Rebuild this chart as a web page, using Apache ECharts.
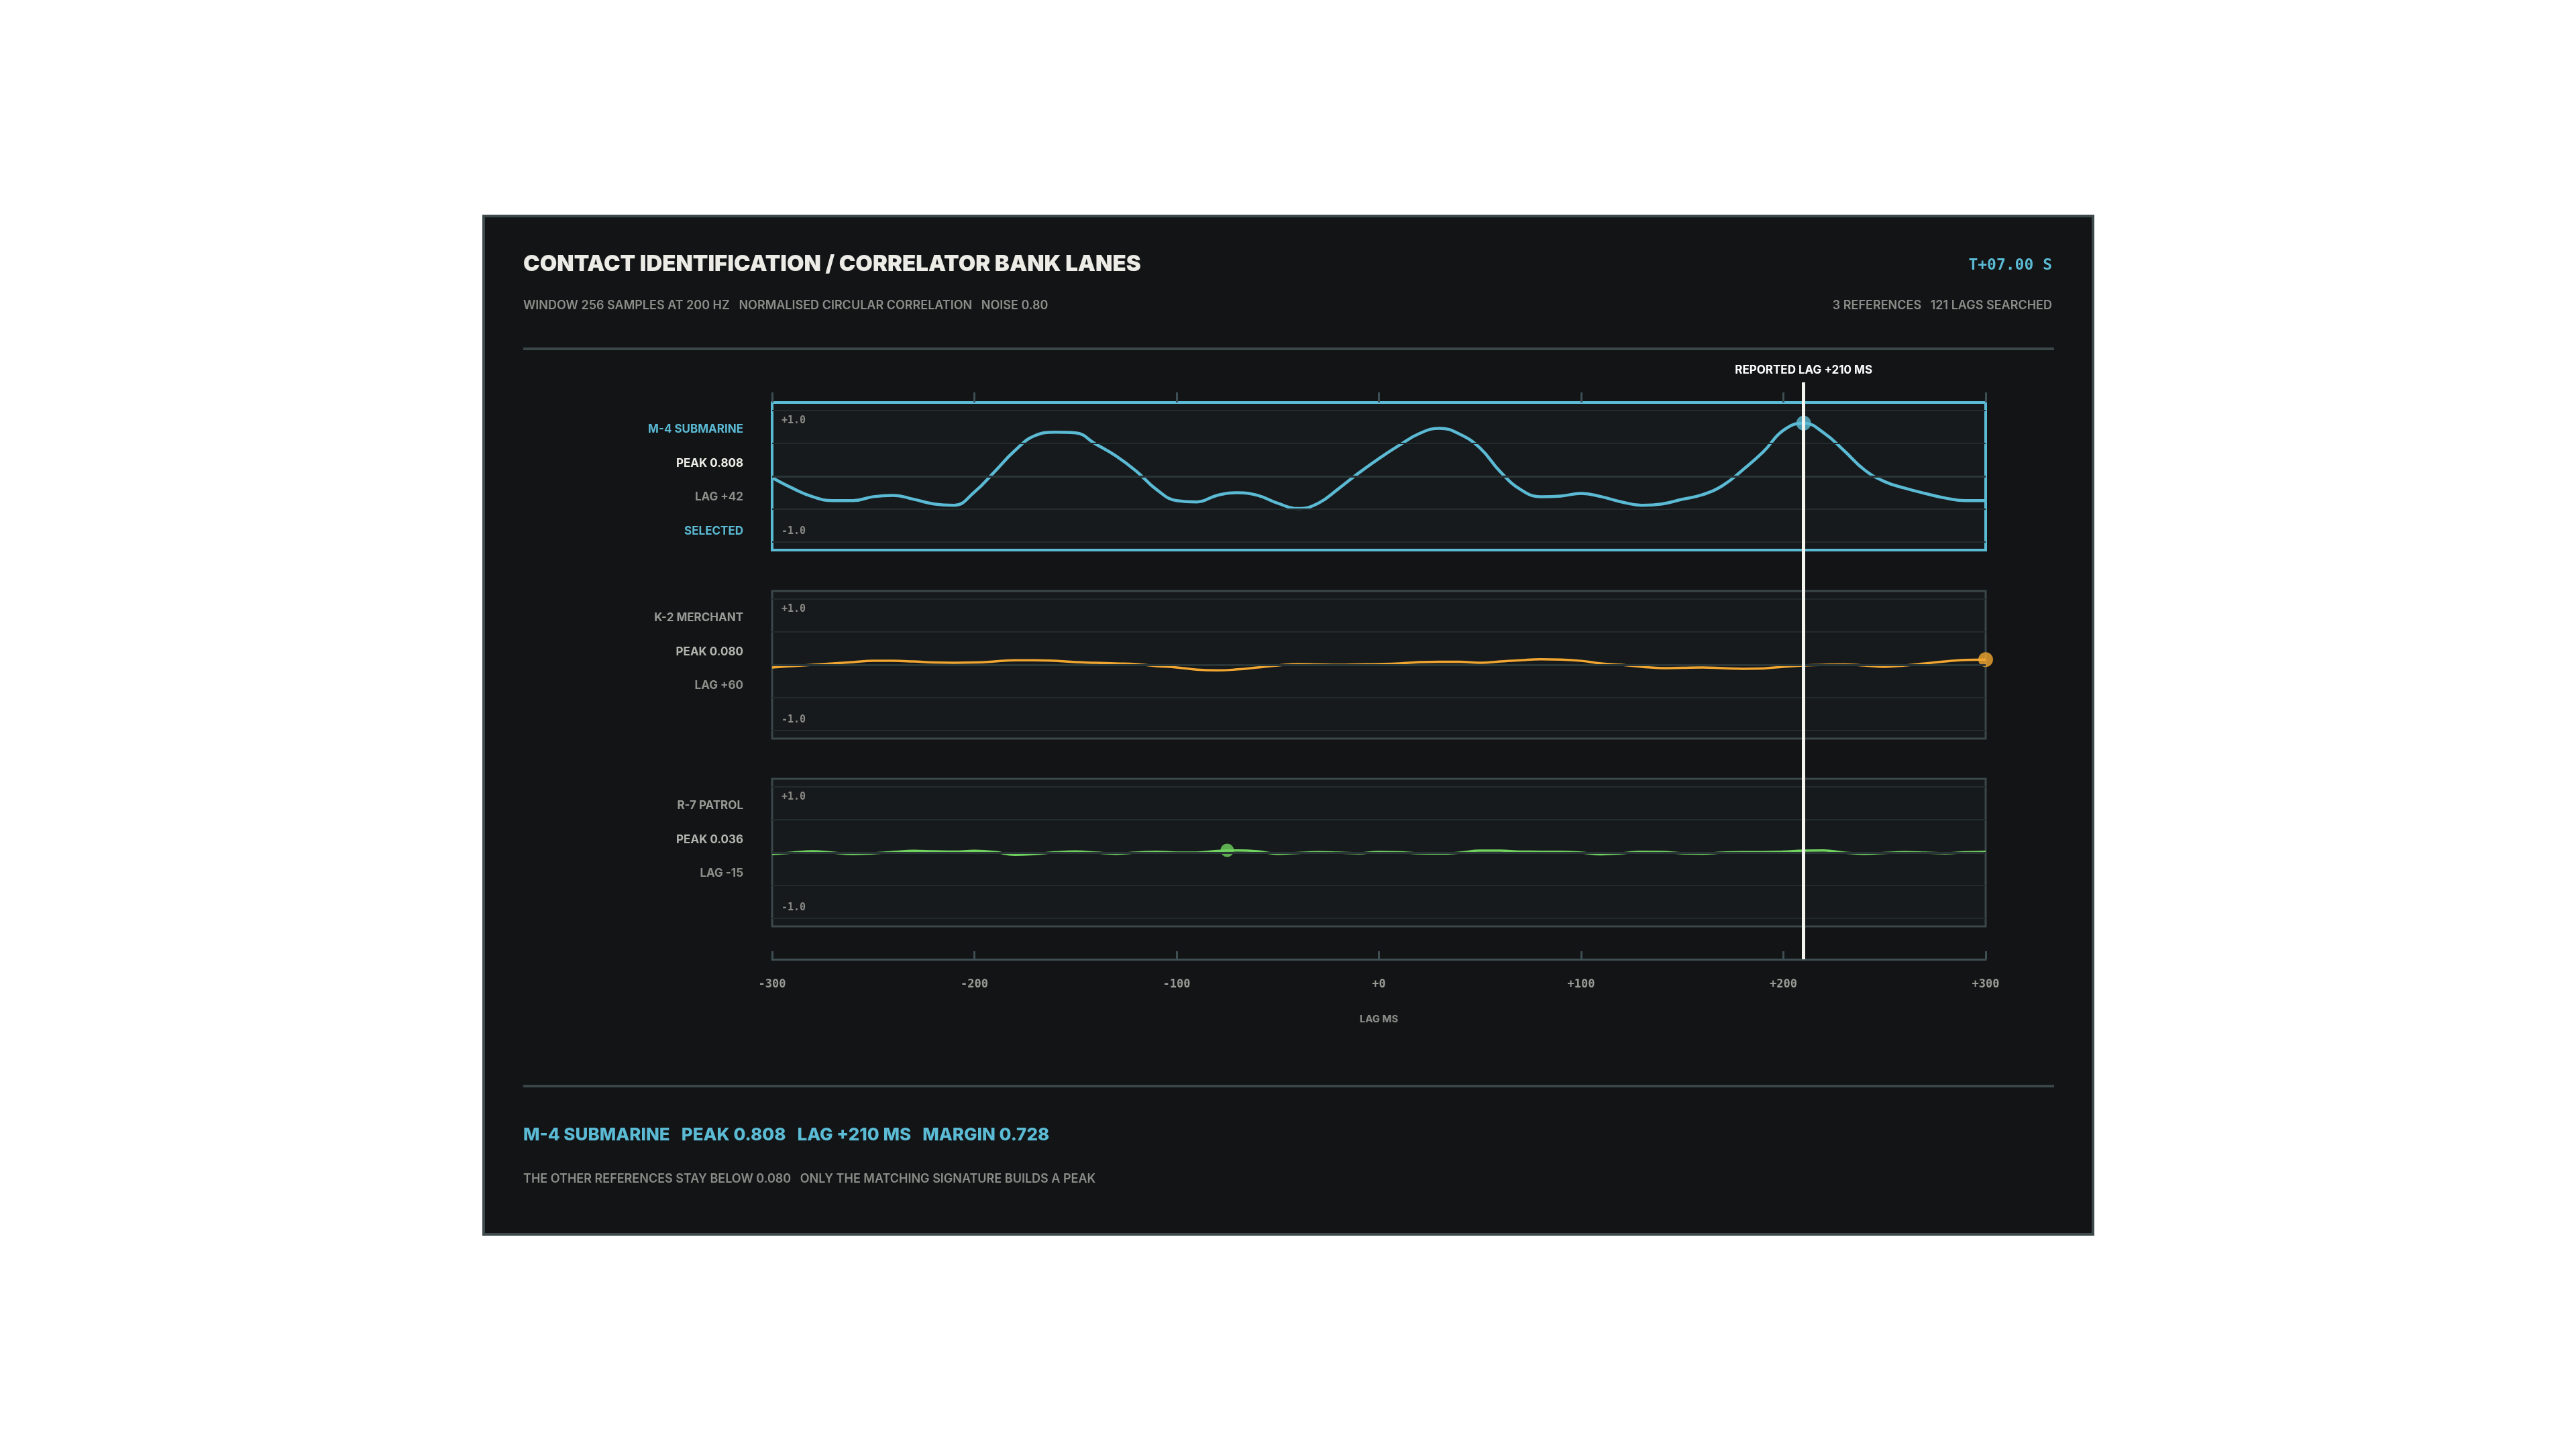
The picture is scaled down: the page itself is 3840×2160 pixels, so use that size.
<!DOCTYPE html>
<html>
<head>
<meta charset="utf-8">
<script src="https://cdn.jsdelivr.net/npm/echarts@6/dist/echarts.min.js"></script>
<style>
html,body{margin:0;padding:0;background:#ffffff;}
#chart{width:3840px;height:2160px;}
</style>
</head>
<body>
<div id="chart"></div>
<script>
// ---------- data ----------
const lags = [-300,-290,-280,-270,-260,-250,-240,-230,-220,-210,-200,-190,-180,-170,-160,-150,-140,-130,-120,-110,-100,-90,-80,-70,-60,-50,-40,-30,-20,-10,0,10,20,30,40,50,60,70,80,90,100,110,120,130,140,150,160,170,180,190,200,210,220,230,240,250,260,270,280,290,300];
const m4Values = [-0.02,-0.18,-0.31,-0.37,-0.37,-0.31,-0.29,-0.35,-0.42,-0.44,-0.24,0.07,0.39,0.62,0.67,0.66,0.49,0.31,0.08,-0.20,-0.37,-0.39,-0.29,-0.25,-0.29,-0.41,-0.49,-0.41,-0.19,0.05,0.27,0.47,0.65,0.73,0.64,0.43,0.07,-0.20,-0.31,-0.30,-0.26,-0.31,-0.39,-0.44,-0.42,-0.35,-0.28,-0.14,0.10,0.37,0.70,0.808,0.66,0.39,0.10,-0.08,-0.18,-0.26,-0.33,-0.37,-0.37];
const k2Values = [-0.04,-0.02,0.00,0.02,0.04,0.06,0.06,0.05,0.035,0.03,0.035,0.05,0.07,0.07,0.06,0.04,0.03,0.02,0.01,-0.02,-0.04,-0.075,-0.085,-0.07,-0.04,-0.01,0.01,0.005,0.00,0.005,0.01,0.02,0.04,0.045,0.045,0.03,0.05,0.07,0.085,0.08,0.06,0.02,0.00,-0.03,-0.05,-0.045,-0.04,-0.05,-0.06,-0.055,-0.03,-0.01,0.00,0.005,-0.01,-0.03,-0.01,0.02,0.05,0.075,0.08];
const r7Values = [-0.02,0.00,0.02,0.00,-0.02,-0.01,0.01,0.027,0.02,0.015,0.027,0.01,-0.034,-0.02,0.005,0.017,0.00,-0.017,0.00,0.014,0.00,0.00,0.025,0.032,0.02,-0.017,-0.005,0.007,0.00,-0.01,0.01,0.005,-0.01,-0.014,0.00,0.03,0.03,0.015,0.014,0.014,0.00,-0.025,-0.01,0.014,0.01,-0.01,-0.015,0.00,0.007,0.007,0.015,0.03,0.034,0.00,-0.017,-0.005,0.007,0.00,-0.01,0.005,0.014];

const peakLags = [210, 300, -75];
const peakValues = [0.808, 0.080, 0.036];
const reportedLag = 210;

const laneNames = ['M-4 SUBMARINE', 'K-2 MERCHANT', 'R-7 PATROL'];
const lanePeakText = ['PEAK 0.808', 'PEAK 0.080', 'PEAK 0.036'];
const laneLagText = ['LAG +42', 'LAG +60', 'LAG -15'];
const selectedText = 'SELECTED';

const tickValues = [-300, -200, -100, 0, 100, 200, 300];
const tickLabels = ['-300', '-200', '-100', '+0', '+100', '+200', '+300'];
const gridValues = [1, 0.5, 0, -0.5, -1];

const titleText = 'CONTACT IDENTIFICATION / CORRELATOR BANK LANES';
const subtitleText = 'WINDOW 256 SAMPLES AT 200 HZ   NORMALISED CIRCULAR CORRELATION   NOISE 0.80';
const clockText = 'T+07.00 S';
const rightSubText = '3 REFERENCES   121 LAGS SEARCHED';
const footerHead = 'M-4 SUBMARINE   PEAK 0.808   LAG +210 MS   MARGIN 0.728';
const footerNote = 'THE OTHER REFERENCES STAY BELOW 0.080   ONLY THE MATCHING SIGNATURE BUILDS A PEAK';

// ---------- styling / layout ----------
const CYAN = '#5bbad4', ORANGE = '#f1a631', GREEN = '#70d25f';
const laneColors = [CYAN, ORANGE, GREEN];
const laneWidths = [4.5, 3.5, 3.5];
const laneBorder = [CYAN, '#3b4749', '#3b4749'];
const laneBorderW = [4, 3, 3];
const plotLeft = 1151, plotRight = 2960;
const laneTop = [600, 881, 1161];
const laneH = 220;
const frameTop = 570, axisY = 1430;
const textLeft = 780, textRight = 3059;
const MONO = '"DejaVu Sans Mono", monospace';
const SANS = 'Inter, "Noto Sans", sans-serif';

const seriesValues = [m4Values, k2Values, r7Values];

const chart = echarts.init(document.getElementById('chart'), null, {renderer: 'canvas', width: 3840, height: 2160});

const grids = [];
const xAxes = [];
const yAxes = [];
const series = [];

for (let i = 0; i < 3; i++) {
  grids.push({
    left: plotLeft, width: plotRight - plotLeft, top: laneTop[i], height: laneH,
    show: true, backgroundColor: '#171a1c', borderColor: laneBorder[i], borderWidth: laneBorderW[i]
  });
  xAxes.push({
    gridIndex: i, type: 'value', min: -300, max: 300, interval: 100,
    position: 'top',
    show: i === 0,
    axisLine: {show: false, onZero: false},
    axisTick: {show: i === 0, inside: false, length: 15, lineStyle: {color: '#3e4f54', width: 3}},
    axisLabel: {show: false},
    splitLine: {show: false}
  });
  yAxes.push({
    gridIndex: i, type: 'value', min: -1.122, max: 1.122, show: false,
    splitLine: {show: false}
  });
  // lane guide lines
  series.push({
    type: 'line', xAxisIndex: i, yAxisIndex: i, data: [], z: 1, silent: true,
    markLine: {
      silent: true, symbol: ['none', 'none'], animation: false,
      label: {show: false},
      data: gridValues.map(v => ({
        yAxis: v,
        lineStyle: {color: v === 0 ? '#2a3537' : '#222b2d', width: v === 0 ? 3 : 2, type: 'solid'},
        label: Math.abs(v) === 1 ? {
          show: true,
          formatter: v > 0 ? '+1.0' : '-1.0',
          position: v > 0 ? 'insideStartBottom' : 'insideStartTop',
          color: '#8a8a86', fontFamily: MONO, fontWeight: 'bold', fontSize: 15,
          distance: [14, 8]
        } : {show: false}
      }))
    }
  });
  // correlation curve
  series.push({
    type: 'line', xAxisIndex: i, yAxisIndex: i, z: 3,
    data: lags.map((l, k) => [l, seriesValues[i][k]]),
    smooth: 0.45, showSymbol: false, symbol: 'none',
    lineStyle: {color: laneColors[i], width: laneWidths[i]},
    animation: false
  });
  // peak marker
  series.push({
    type: 'scatter', xAxisIndex: i, yAxisIndex: i, z: 4, clip: false,
    data: [[peakLags[i], peakValues[i]]],
    symbolSize: i === 2 ? 20 : 22,
    itemStyle: {color: laneColors[i]},
    animation: false
  });
}

// frame grid with bottom axis and reported lag line
grids.push({left: plotLeft, width: plotRight - plotLeft, top: frameTop, height: axisY - frameTop, show: false});
xAxes.push({
  gridIndex: 3, type: 'value', min: -300, max: 300, interval: 100, position: 'bottom',
  axisLine: {show: true, onZero: false, lineStyle: {color: '#3e4f54', width: 3}},
  axisTick: {show: true, inside: true, length: 12, lineStyle: {color: '#3e4f54', width: 3}},
  axisLabel: {
    margin: 29, color: '#9a9a95', fontFamily: MONO, fontWeight: 'bold', fontSize: 17,
    formatter: v => tickLabels[tickValues.indexOf(v)]
  },
  splitLine: {show: false},
  name: 'LAG MS', nameLocation: 'middle', nameGap: 82,
  nameTextStyle: {color: '#8e8e8a', fontFamily: SANS, fontWeight: 700, fontSize: 15}
});
yAxes.push({gridIndex: 3, type: 'value', min: 0, max: 1, show: false, splitLine: {show: false}});
series.push({
  type: 'line', xAxisIndex: 3, yAxisIndex: 3, data: [], z: 10,
  markLine: {
    silent: true, symbol: ['none', 'none'], animation: false,
    lineStyle: {color: '#f4f4ef', width: 5, type: 'solid'},
    label: {
      show: true, position: 'end', distance: 10,
      formatter: 'REPORTED LAG +' + reportedLag + ' MS',
      color: '#ffffff', fontFamily: SANS, fontWeight: 700, fontSize: 17
    },
    data: [{xAxis: reportedLag}]
  }
});

// ---------- decoration / text ----------
function txt(x, y, text, size, weight, color, align, family) {
  return {
    type: 'text', x: x, y: y, z: 100, silent: true,
    style: {
      text: text, fontSize: size, fontWeight: weight, fontFamily: family || SANS,
      fill: color, textAlign: align || 'left', textVerticalAlign: 'middle',
      align: align || 'left', verticalAlign: 'middle'
    }
  };
}
const graphics = [
  {type: 'rect', z: -10, silent: true, shape: {x: 721, y: 322, width: 2399, height: 1518},
   style: {fill: '#121416', stroke: '#3d494b', lineWidth: 4}},
  txt(textLeft, 394, titleText, 33, 900, '#ecebe6'),
  txt(textLeft, 456, subtitleText, 18, 600, '#8c8c88'),
  txt(textRight, 396, clockText, 23, 'bold', CYAN, 'right', MONO),
  txt(textRight, 456, rightSubText, 18, 600, '#8c8c88', 'right'),
  {type: 'line', z: 5, silent: true, shape: {x1: textLeft, y1: 520, x2: textRight + 3, y2: 520}, style: {stroke: '#3a4648', lineWidth: 4}},
  {type: 'line', z: 5, silent: true, shape: {x1: textLeft, y1: 1619, x2: textRight + 3, y2: 1619}, style: {stroke: '#3a4648', lineWidth: 4}},
  txt(textLeft, 1692, footerHead, 26, 800, CYAN),
  txt(textLeft, 1758, footerNote, 18, 600, '#8c8c88')
];
const labelX = 1108;
const step = 50.5;
for (let i = 0; i < 3; i++) {
  const y0 = laneTop[i] + 40;
  graphics.push(txt(labelX, y0, laneNames[i], 17, 700, i === 0 ? CYAN : '#9a9a96', 'right'));
  graphics.push(txt(labelX, y0 + step, lanePeakText[i], 17, 700, i === 0 ? '#efeee8' : '#b4b4af', 'right'));
  graphics.push(txt(labelX, y0 + step * 2, laneLagText[i], 17, 700, '#8e8e8a', 'right'));
  if (i === 0) graphics.push(txt(labelX, y0 + step * 3, selectedText, 17, 700, CYAN, 'right'));
}

chart.setOption({
  backgroundColor: '#ffffff',
  animation: false,
  textStyle: {fontFamily: SANS},
  grid: grids,
  xAxis: xAxes,
  yAxis: yAxes,
  series: series,
  graphic: graphics
});
</script>
</body>
</html>
